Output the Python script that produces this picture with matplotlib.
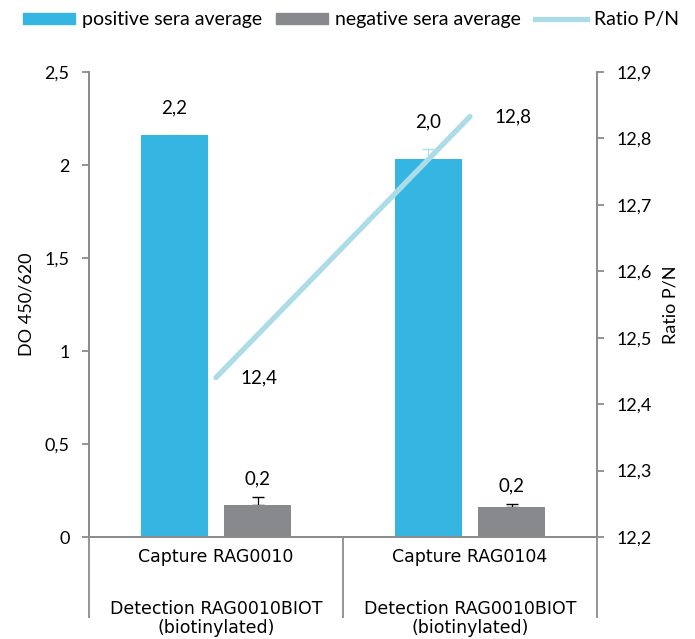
import matplotlib
matplotlib.use("Agg")
import matplotlib.pyplot as plt
from matplotlib.patches import Patch
from matplotlib.lines import Line2D
from matplotlib.ticker import FuncFormatter

# data
captures = ["Capture RAG0010", "Capture RAG0104"]
detection = "Detection RAG0010BIOT\n(biotinylated)"
positive_avg = [2.16, 2.03]
positive_err = [0.0, 0.054]
negative_avg = [0.172, 0.161]
negative_err = [0.043, 0.016]
ratio_pn = [12.44, 12.833]
pos_labels = ["2,2", "2,0"]
neg_labels = ["0,2", "0,2"]
ratio_labels = ["12,4", "12,8"]

blue = "#35b5e2"
grey = "#87898c"
light = "#acdce8"
axis_grey = "#8c8c8c"

plt.rcParams['font.family'] = ['Lato', 'DejaVu Sans']

fig = plt.figure(figsize=(6.95, 6.39), dpi=100)
ax = fig.add_axes([0.128, 0.1596, 0.731, 0.7277])
ax2 = ax.twinx()

x = range(len(captures))
w = 0.264
off = 0.165
xp = [i - off for i in x]
xn = [i + off for i in x]

ax.bar(xp, positive_avg, width=w, color=blue, zorder=2)
ax.bar(xn, negative_avg, width=w, color=grey, zorder=2)
ax.errorbar(xp, positive_avg, yerr=[[0, 0], positive_err], fmt="none",
            ecolor=light, elinewidth=0.8, capsize=4, zorder=1)
ax.errorbar(xn, negative_avg, yerr=[[0, 0], negative_err], fmt="none",
            ecolor="black", elinewidth=0.9, capsize=4, zorder=1)

# data labels
for i in x:
    ax.text(xp[i], positive_avg[i] + positive_err[i] + 0.1, pos_labels[i],
            ha="center", va="bottom", fontsize=13.5)
    ax.text(xn[i], negative_avg[i] + negative_err[i] + 0.05, neg_labels[i],
            ha="center", va="bottom", fontsize=13.5)

ax2.plot(list(x), ratio_pn, color=light, lw=3.8, solid_capstyle="round", zorder=3)
for i in x:
    ax2.annotate(ratio_labels[i], (i, ratio_pn[i]), xytext=(31, 0),
                 textcoords="offset points", ha="center", va="center", fontsize=13.5)

ax.set_xlim(-0.5, 1.5)
ax.set_ylim(0, 2.5)
ax2.set_ylim(12.2, 12.9)
ax.set_yticks([0, 0.5, 1, 1.5, 2, 2.5])
ax2.set_yticks([12.2, 12.3, 12.4, 12.5, 12.6, 12.7, 12.8, 12.9])
comma = FuncFormatter(lambda v, p: ("%g" % round(v, 2)).replace(".", ","))
ax.yaxis.set_major_formatter(comma)
ax2.yaxis.set_major_formatter(comma)

# category axis: labels and the long divider ticks
ax.set_xticks(list(x))
ax.set_xticklabels(captures, family="DejaVu Sans", fontsize=12.5)
ax.set_xticks([-0.5, 0.5, 1.5], minor=True)
ax.tick_params(axis="x", which="major", length=0, pad=8)
ax.tick_params(axis="x", which="minor", length=58, width=1.3, color=axis_grey, direction="out")
for i in x:
    ax.text(i, -0.135, detection, transform=ax.get_xaxis_transform(),
            ha="center", va="top", family="DejaVu Sans", fontsize=12.5, linespacing=1.08)

for a in (ax, ax2):
    a.spines["top"].set_visible(False)
    for s in ("left", "right", "bottom"):
        a.spines[s].set_color(axis_grey)
        a.spines[s].set_linewidth(1.3)
    a.tick_params(axis="y", length=5, width=1.3, color=axis_grey, labelsize=13, pad=9)

ax.set_ylabel("DO 450/620", fontsize=13, labelpad=7)
ax2.set_ylabel("Ratio P/N", fontsize=13, labelpad=8)

handles = [Patch(color=blue), Patch(color=grey), Line2D([], [], color=light, lw=3.8)]
fig.legend(handles, ["positive sera average", "negative sera average", "Ratio P/N"],
           loc="center", bbox_to_anchor=(0.505, 0.969), ncol=3, frameon=False, fontsize=14,
           handlelength=2.65, handletextpad=0.35, columnspacing=0.75, handleheight=0.55,
           borderpad=0.2, borderaxespad=0)

fig.savefig("out.png", dpi=100)
